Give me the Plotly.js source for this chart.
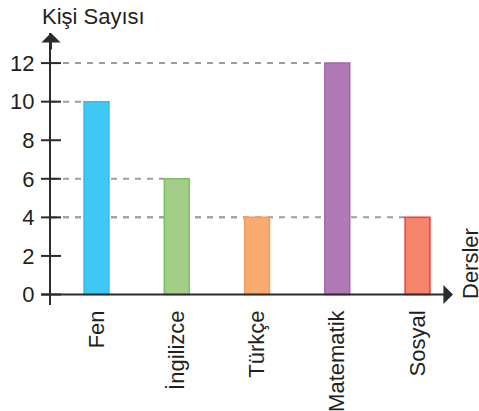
<!DOCTYPE html>
<html>
<head>
<meta charset="utf-8">
<script src="https://cdn.plot.ly/plotly-3.0.1.min.js"></script>
<style>html,body{margin:0;padding:0;background:#fff;}#chart{width:479px;height:411px;}</style>
</head>
<body>
<div id="chart"></div>
<script>
// ---- data ----
const categories = ["Fen", "İngilizce", "Türkçe", "Matematik", "Sosyal"];
const counts = [10, 6, 4, 12, 4];
const yTicks = [0, 2, 4, 6, 8, 10, 12];
const yTitle = "Kişi Sayısı";
const xTitle = "Dersler";
const fillColors = ["#40C8F4", "#A3CE88", "#F9AA6E", "#B27AB5", "#F4846A"];
const edgeColors = ["#2FB9EE", "#7DBF5E", "#F59E5C", "#A464AA", "#EC3E45"];

// ---- layout constants ----
const W = 479, H = 411;
const m = {l: 51, r: 26, t: 33, b: 106};
const plotW = W - m.l - m.r, plotH = H - m.t - m.b;
const xRange = [-0.567, 4.442];
const yRange = [-0.544, 13.56];
const barW = 0.31;
const axisColor = "#2b2b2b";
const textColor = "#231f20";
const font = "Liberation Sans, Arial, sans-serif";
const fs = 22;

const trace = {
  type: "bar",
  x: categories.map((c, i) => i),
  y: counts,
  width: barW,
  marker: {color: fillColors, line: {color: edgeColors, width: 1.5}},
  hoverinfo: "none"
};

const shapes = [];
// dashed reference lines from axis to the bar with that value
counts.forEach((v, i) => {
  shapes.push({
    type: "line", layer: "below", xref: "x", yref: "y",
    x0: xRange[0], x1: i - barW / 2, y0: v, y1: v,
    line: {color: "#9e9e9e", width: 2, dash: "6px,6px"}
  });
});
// y tick marks crossing the axis
const tickHalf = 10 / plotW;
yTicks.forEach(t => {
  shapes.push({
    type: "line", xref: "paper", yref: "y",
    x0: -tickHalf, x1: tickHalf, y0: t, y1: t,
    line: {color: axisColor, width: 2}
  });
});

const annotations = [
  // y axis arrow head
  {xref: "paper", yref: "paper", x: 0, y: 1, ax: 0, ay: 18, showarrow: true,
   arrowhead: 1, arrowsize: 1.6, arrowwidth: 2, arrowcolor: axisColor, text: ""},
  // x axis line with arrow
  {xref: "paper", yref: "y", x: 1, y: 0, ax: -(plotW + 11), ay: 0, showarrow: true,
   arrowhead: 1, arrowsize: 1.6, arrowwidth: 2, arrowcolor: axisColor, text: ""},
  // titles
  {xref: "paper", yref: "paper", x: -11 / plotW, y: (plotH + 16) / plotH,
   xanchor: "left", yanchor: "middle", showarrow: false, text: yTitle,
   font: {family: font, size: fs, color: textColor}},
  {xref: "paper", yref: "paper", x: (470 - m.l) / plotW, y: 41 / plotH,
   xanchor: "center", yanchor: "middle", showarrow: false, text: xTitle, textangle: -90,
   font: {family: font, size: fs, color: textColor}}
];

const layout = {
  width: W, height: H,
  margin: m,
  paper_bgcolor: "#fff", plot_bgcolor: "#fff",
  showlegend: false,
  xaxis: {
    range: xRange,
    tickmode: "array",
    tickvals: categories.map((c, i) => i),
    ticktext: categories,
    tickangle: -90,
    ticks: "",
    showline: false, showgrid: false, zeroline: false,
    tickfont: {family: font, size: fs, color: textColor},
    fixedrange: true
  },
  yaxis: {
    range: yRange,
    tickmode: "array",
    tickvals: yTicks,
    ticks: "",
    ticklabelstandoff: 10,
    showline: true, linecolor: axisColor, linewidth: 2,
    showgrid: false, zeroline: false,
    tickfont: {family: font, size: fs, color: textColor},
    fixedrange: true
  },
  shapes: shapes,
  annotations: annotations
};

Plotly.newPlot("chart", [trace], layout, {displayModeBar: false, staticPlot: true});
</script>
</body>
</html>
